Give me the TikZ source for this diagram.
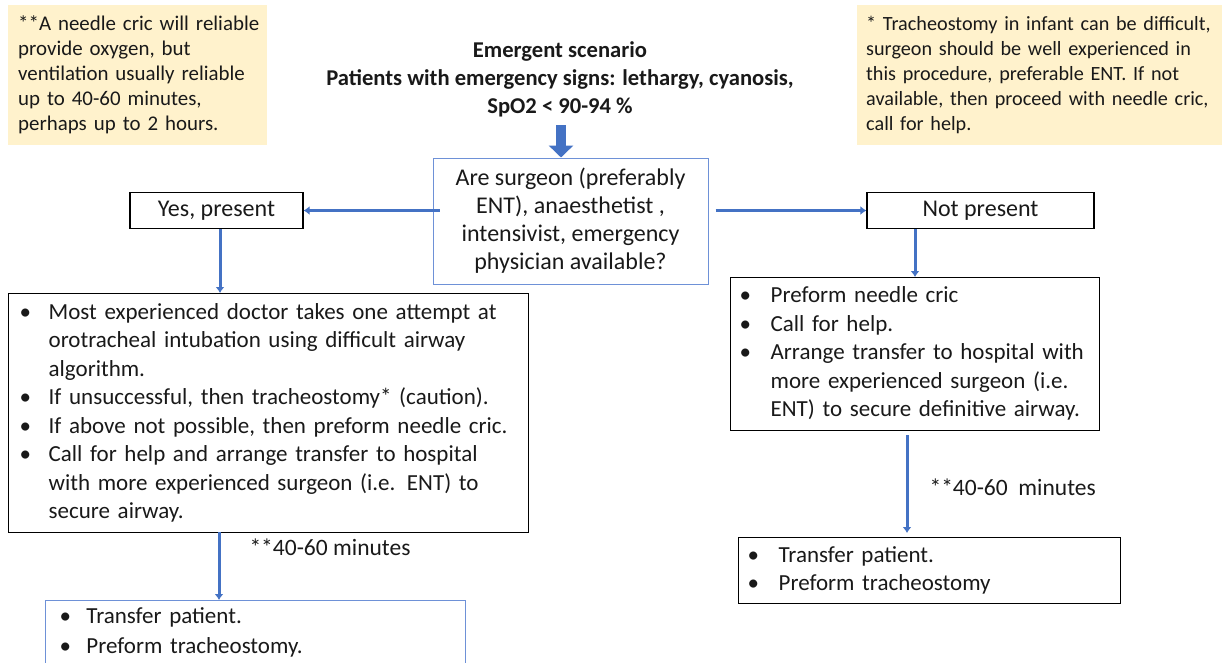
\documentclass[tikz,border=0pt]{standalone}
\usepackage{fontspec}
\setmainfont{Carlito}
\usetikzlibrary{arrows.meta,positioning}
\definecolor{flowblue}{RGB}{68,114,196}
\definecolor{boxblue}{RGB}{110,145,215}
\definecolor{notefill}{RGB}{255,242,204}
\definecolor{inkgrey}{RGB}{25,25,25}
\newcommand{\bsize}{\fontsize{23}{28.5}\selectfont}

\begin{document}
\begin{tikzpicture}
[x=1pt,y=-1pt,text=inkgrey]
\tikzstyle{note box}=[fill=notefill,anchor=north west,align=left,inner ysep=0pt]
\tikzstyle{plain box}=[draw=black,line width=1.3pt,minimum height=36pt,font=\fontsize{24}{28}\selectfont]
\tikzstyle{list box}=[draw=black,line width=1.3pt,anchor=north west,align=left,font=\bsize]
\tikzstyle{flow}=[draw=flowblue,line width=3pt,-{Latex[length=6pt,width=9pt]}]
\tikzstyle{time label}=[anchor=west,font=\fontsize{23.5}{26}\selectfont]

\useasboundingbox (0,0) rectangle (1225,662);

% notes
\node(n1)[note box,inner xsep=10pt,text width=239pt,minimum height=140pt,font=\fontsize{20.9}{25}\selectfont] at (8,5)
  {\begin{tabular}{@{}l@{}}**A needle cric will reliable\\provide oxygen, but\\ventilation usually reliable\\up to 40-60 minutes,\\perhaps up to 2 hours.\end{tabular}};
\node(n2)[note box,inner xsep=9pt,text width=347pt,minimum height=140pt,font=\fontsize{20.2}{25}\selectfont] at (857,5)
  {\begin{tabular}{@{}l@{}}* Tracheostomy in infant can be difficult,\\surgeon should be well experienced in\\this procedure, preferable ENT. If not\\available, then proceed with needle cric,\\call for help.\end{tabular}};

% title and question
\node(title)[align=center,font=\bfseries\fontsize{22.6}{28}\selectfont] at (560,79)
  {Emergent scenario\\Patients with emergency signs: lethargy, cyanosis,\\SpO2 < 90-94 \%};
\node(q)[draw=boxblue,line width=1pt,minimum width=275pt,minimum height=126pt,align=center,font=\fontsize{24}{28}\selectfont] at (570.5,221)
  {Are surgeon (preferably\\ENT), anaesthetist ,\\intensivist, emergency\\physician available?};
\coordinate(a0) at (561,125);
\draw[flowblue,line width=10pt,-{Triangle[length=12pt,width=24pt]}] (a0) -- (a0 |- q.north);

% answers
\node(yes)[plain box,minimum width=173pt] at (216.5,210.5) {Yes, present};
\node(np)[plain box,minimum width=227pt] at (980.5,210.5) {Not present};
\draw[flow] ([xshift=7pt]q.west |- yes.east) -- (yes.east);
\draw[flow] ([xshift=7pt]q.east |- np.west) -- (np.west);

% left branch
\node(lbox)[list box,inner xsep=11pt,text width=498pt,minimum height=239pt] at (8,293)
  {\begin{tabular}{@{}p{29pt}@{}l@{}}
   \textbullet & Most experienced doctor takes one attempt at\\
    & orotracheal intubation using difficult airway\\
    & algorithm.\\
   \textbullet & If unsuccessful, then tracheostomy* (caution).\\
   \textbullet & If above not possible, then preform needle cric.\\
   \textbullet & Call for help and arrange transfer to hospital\\
    & with more experienced surgeon (i.e. ENT) to\\
    & secure airway.
   \end{tabular}};
\draw[flow] ([xshift=3.5pt]yes.south) -- ([xshift=3.5pt]yes.south |- lbox.north);

\node(lend)[list box,draw=boxblue,line width=1pt,inner xsep=14pt,inner ysep=3pt,text width=392pt] at (45,600)
  {\begin{tabular}{@{}p{27pt}@{}l@{}}
   \textbullet & Transfer patient.\\[2pt]
   \textbullet & Preform tracheostomy.
   \end{tabular}};
\coordinate(l1) at (219,532);
\draw[flow] (l1) -- (l1 |- lend.north);
\node(t1)[time label] at (246,547) {**40-60 minutes};

% right branch
\node(rbox)[list box,inner xsep=9pt,text width=351pt,minimum height=153pt] at (730,277)
  {\begin{tabular}{@{}p{31pt}@{}l@{}}
   \textbullet & Preform needle cric\\
   \textbullet & Call for help.\\
   \textbullet & Arrange transfer to hospital with\\
    & more experienced surgeon (i.e.\\
    & ENT) to secure definitive airway.
   \end{tabular}};
\draw[flow] ([xshift=-65.5pt]np.south) -- ([xshift=-65.5pt]np.south |- rbox.north);

\node(rend)[list box,inner xsep=9pt,text width=364pt,minimum height=66pt] at (738,537)
  {\begin{tabular}{@{}p{31pt}@{}l@{}}
   \textbullet & Transfer patient.\\
   \textbullet & Preform tracheostomy
   \end{tabular}};
\coordinate(r1) at (907,435);
\draw[flow] (r1) -- ([yshift=4pt]r1 |- rend.north);
\node(t2)[time label] at (926,487) {**40-60\ \ minutes};
\end{tikzpicture}
\end{document}
